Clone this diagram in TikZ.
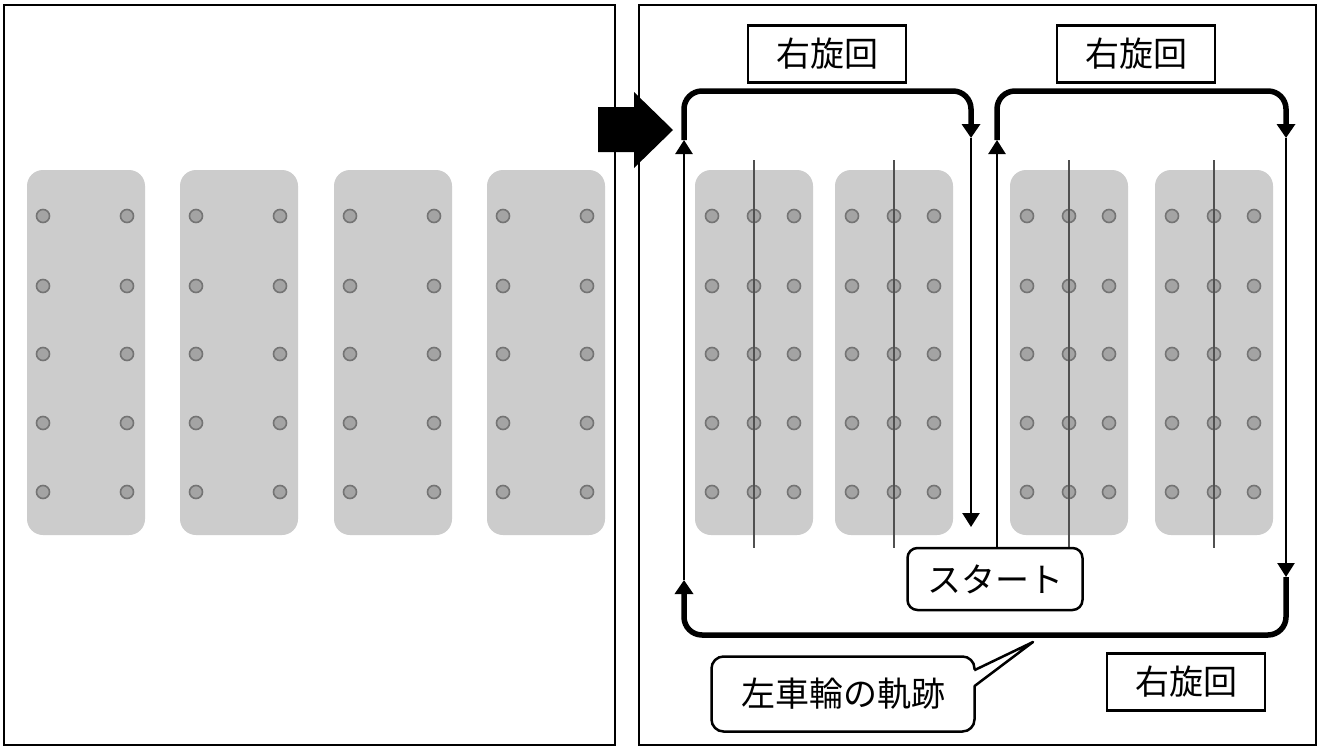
\documentclass[tikz,border=0pt]{standalone}
\usepackage{fontspec}
\setmainfont{Noto Sans CJK JP}
\usetikzlibrary{arrows.meta,positioning,calc}
\definecolor{bedgray}{HTML}{CCCCCC}
\definecolor{holefill}{HTML}{A4A4A4}
\definecolor{holerim}{HTML}{747474}
\definecolor{rowline}{HTML}{505050}

\begin{document}
\begin{tikzpicture}[
    x=1pt, y=-1pt,
    font=\fontsize{34}{40}\selectfont,
    panel/.style={draw, line width=2.5pt},
    bed/.style={fill=bedgray, rounded corners=16pt},
    hole/.style={fill=holefill, draw=holerim, line width=1.6pt},
    turnlbl/.style={draw, line width=2.5pt, fill=white, minimum width=158pt,
                    minimum height=57pt, inner sep=0pt},
    startlbl/.style={draw, line width=2.5pt, fill=white, rounded corners=10pt,
                     minimum width=175pt, minimum height=62pt, inner sep=0pt},
    tracklbl/.style={draw, line width=2.5pt, fill=white, rounded corners=12pt,
                     minimum width=263pt, minimum height=75pt, inner sep=0pt},
    trackthick/.style={line width=5.5pt, rounded corners=18pt,
                       -{Triangle[width=18pt,length=14pt]}},
    trackthin/.style={line width=2.5pt, -{Triangle[width=17pt,length=14pt]}},
  ]
    \useasboundingbox (0,0) rectangle (1325,747);
    \fill[white] (0,0) rectangle (1325,747);

    % --- the two panels ---
    \draw[panel] (4,5) rectangle (615,745);
    \draw[panel] (639,5) rectangle (1316,745);

    % --- left panel: beds with two rows of holes ---
    \foreach \bx in {27,180,334,487} {
      \fill[bed] (\bx,170) rectangle ++(118,365);
      \foreach \hy in {216,286,354,423,492}
        \foreach \dx in {16,100}
          \filldraw[hole] (\bx+\dx,\hy) circle[radius=6.5];
    }

    % --- right panel: beds with three rows and centre line ---
    \foreach \bx in {695,835,1010,1155} {
      \fill[bed] (\bx,170) rectangle ++(118,365);
      \foreach \hy in {216,286,354,423,492}
        \foreach \dx in {17,59,99}
          \filldraw[hole] (\bx+\dx,\hy) circle[radius=6.5];
      \draw[rowline, line width=1.3pt] (\bx+59,160) -- (\bx+59,548);
    }

    % --- block arrow between panels ---
    \fill (598,107) -- (634,107) -- (634,92) -- (673,130) -- (634,168)
      -- (634,152) -- (598,152) -- cycle;

    % --- labels ---
    \node[turnlbl] (turnA) at (827,54) {右旋回};
    \node[turnlbl] (turnB) at (1136,54) {右旋回};
    \node[turnlbl] (turnC) at (1186,682) {右旋回};
    \node[startlbl] (start) at (995,579) {スタート};
    \node[tracklbl] (track) at (843,694) {左車輪の軌跡};

    % --- corner points of the wheel track ---
    \coordinate (upB)   at (997,140);
    \coordinate (topBl) at (997,91);
    \coordinate (topBr) at (1286,91);
    \coordinate (dnB)   at (1286,138);
    \coordinate (lowB)  at (1286,577);
    \coordinate (botR)  at (1286,635);
    \coordinate (botL)  at (684,635);
    \coordinate (lowA)  at (684,580);
    \coordinate (upA)   at (684,140);
    \coordinate (topAl) at (684,91);
    \coordinate (topAr) at (971,91);
    \coordinate (dnA)   at (971,138);
    \coordinate (endA)  at (971,527);

    % --- wheel track ---
    \draw[trackthin] (start.north -| upB) -- (upB);
    \draw[trackthick] (upB) -- (topBl) -- (topBr) -- (dnB);
    \draw[trackthin] (dnB) -- (lowB);
    \draw[trackthick] (lowB) -- (botR) -- (botL) -- (lowA);
    \draw[trackthin] (lowA) -- (upA);
    \draw[trackthick] (upA) -- (topAl) -- (topAr) -- (dnA);
    \draw[trackthin] (dnA) -- (endA);

    % --- callout pointer ---
    \coordinate (tip) at (1033,642);
    \fill[white] ($(track.north east)+(-3,15)$) -- (tip)
      -- ($(track.north east)+(-3,31)$) -- cycle;
    \draw[line width=2.5pt, line join=round] ($(track.north east)+(-1.5,15)$)
      -- (tip) -- ($(track.north east)+(-1.5,31)$);
  \end{tikzpicture}
\end{document}
